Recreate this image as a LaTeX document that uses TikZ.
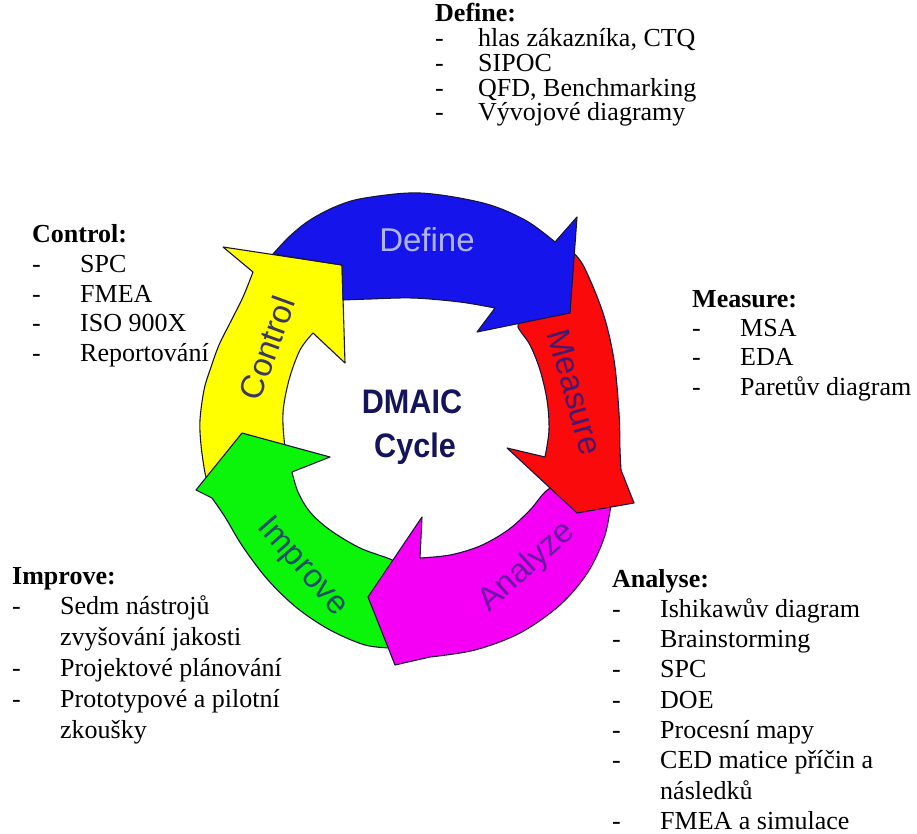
\documentclass[tikz,border=0pt]{standalone}
\usepackage{fontspec}
\usepackage{graphicx}
\setmainfont{Liberation Serif}
\newfontfamily\arialf{Liberation Sans}
\definecolor{cblue}{RGB}{20,20,235}
\definecolor{cred}{RGB}{250,10,10}
\definecolor{cmag}{RGB}{245,0,245}
\definecolor{cgreen}{RGB}{10,245,10}
\definecolor{cyel}{RGB}{255,255,0}
\definecolor{cline}{RGB}{25,20,60}
\definecolor{tdef}{RGB}{175,180,245}
\definecolor{tctl}{RGB}{60,55,95}
\definecolor{tmea}{RGB}{70,25,110}
\definecolor{tana}{RGB}{105,25,165}
\definecolor{timp}{RGB}{25,80,100}
\definecolor{tcen}{RGB}{20,20,90}
\newlength\dmtab
\newcommand\dmtitle[1]{\hbox{\bfseries #1}}
\newcommand\dmitem[1]{\hbox{\makebox[\dmtab][l]{-}#1}}
\newcommand\dmcont[1]{\hbox{\hspace*{\dmtab}#1}}
\newcommand\dmblock[3]{\vtop{\baselineskip=#1\lineskiplimit=-100pt\lineskip=0pt\setlength\dmtab{#2}#3}}
\begin{document}
\begin{tikzpicture}[x=1pt,y=-1pt,
  arr/.style={draw=cline, line width=1.1pt, line join=round},
  lst/.style={anchor=base west, inner sep=0pt, font=\fontsize{26}{30}\selectfont},
  lab/.style={inner sep=0pt, font=\arialf\fontsize{33}{33}\selectfont},
  cen/.style={anchor=base, inner sep=0pt, text=tcen, font=\arialf\bfseries\fontsize{34}{34}\selectfont}]
\path[use as bounding box] (0,0) rectangle (917,834);

% Control (yellow)
\path[arr, fill=cyel] plot[smooth, tension=0.55] coordinates {(208,482) (205,473) (201,445) (200,420) (204,390) (210,370) (219,345) (230,323) (243,297) (253,272)}
  -- (223,247) -- (342,265) -- (345,363) -- (313,333)
  -- plot[smooth, tension=0.55] coordinates {(313,333) (300,350) (289,380) (283,413) (285,447) (290,462)} -- cycle;
% Improve (green)
\path[arr, fill=cgreen] plot[smooth, tension=0.55] coordinates {(392,648) (365,645) (330,630) (297,608) (268,580) (243,547) (225,517) (212,498)}
  -- (196,490) -- (242,433) -- (330,457) -- (292,472)
  -- plot[smooth, tension=0.55] coordinates {(292,472) (298,492) (310,512) (330,530) (360,548) (392,560) (402,570)} -- cycle;
% Analyze (magenta)
\path[arr, fill=cmag] plot[smooth, tension=0.55] coordinates {(612,497) (605,535) (588,572) (560,605) (520,633) (475,650) (430,657)}
  -- (395,665) -- (368,597) -- (422,517) -- (420,558)
  -- plot[smooth, tension=0.55] coordinates {(420,558) (450,555) (480,546) (508,530) (530,510) (545,492) (560,482)} -- cycle;
% Measure (red)
\path[arr, fill=cred] plot[smooth, tension=0.55] coordinates {(568,248) (583,265) (603,313) (614,360) (619,413) (620,450) (621,470)}
  -- (634,503) -- (577,513) -- (507,448) -- (545,457)
  -- plot[smooth, tension=0.55] coordinates {(545,457) (549,430) (547,400) (540,370) (530,345) (518,327) (522,320)} -- cycle;
% Define (blue)
\path[arr, fill=cblue] plot[smooth, tension=0.55] coordinates {(273,254) (290,236) (310,220) (337,206) (365,198) (420,193) (483,203) (525,220) (555,242)}
  -- (577,217) -- (570,313) -- (477,332) -- (495,308)
  -- plot[smooth, tension=0.55] coordinates {(495,308) (460,302) (413,298) (370,299) (343,300)} -- (342,265) -- cycle;

% arrow labels
\node[lab, text=tdef] (ld) at (427,240) {Define};
\node[lab, text=tctl, rotate=70] (lc) at (267,348) {Control};
\node[lab, text=tmea, rotate=-74] (lm) at (575,392) {Measure};
\node[lab, text=tana, rotate=42] (la) at (527,567) {Analyze};
\node[lab, text=timp, rotate=-49] (li) at (302,567) {Improve};

% centre
\node[cen] (dm) at (412,413) {\scalebox{0.9}[1]{DMAIC}};
\node[cen] (cy) at (415,457) {\scalebox{0.9}[1]{Cycle}};

% lists
\node[lst] (ndef) at (435,22) {\dmblock{24.75pt}{43pt}{\dmtitle{Define:}\dmitem{hlas zákazníka, CTQ}\dmitem{SIPOC}\dmitem{QFD, Benchmarking}\dmitem{Vývojové diagramy}}};
\node[lst] (nctl) at (32,243) {\dmblock{29.5pt}{48pt}{\dmtitle{Control:}\dmitem{SPC}\dmitem{FMEA}\dmitem{ISO 900X}\dmitem{Reportování}}};
\node[lst] (nmea) at (692,307) {\dmblock{29.4pt}{48pt}{\dmtitle{Measure:}\dmitem{MSA}\dmitem{EDA}\dmitem{Paretův diagram}}};
\node[lst] (nimp) at (12,584) {\dmblock{30.8pt}{48pt}{\dmtitle{Improve:}\dmitem{Sedm nástrojů}\dmcont{zvyšování jakosti}\dmitem{Projektové plánování}\dmitem{Prototypové a pilotní}\dmcont{zkoušky}}};
\node[lst] (nana) at (612,587) {\dmblock{30.3pt}{48pt}{\dmtitle{Analyse:}\dmitem{Ishikawův diagram}\dmitem{Brainstorming}\dmitem{SPC}\dmitem{DOE}\dmitem{Procesní mapy}\dmitem{CED matice příčin a}\dmcont{následků}\dmitem{FMEA a simulace}}};
\end{tikzpicture}
\end{document}
